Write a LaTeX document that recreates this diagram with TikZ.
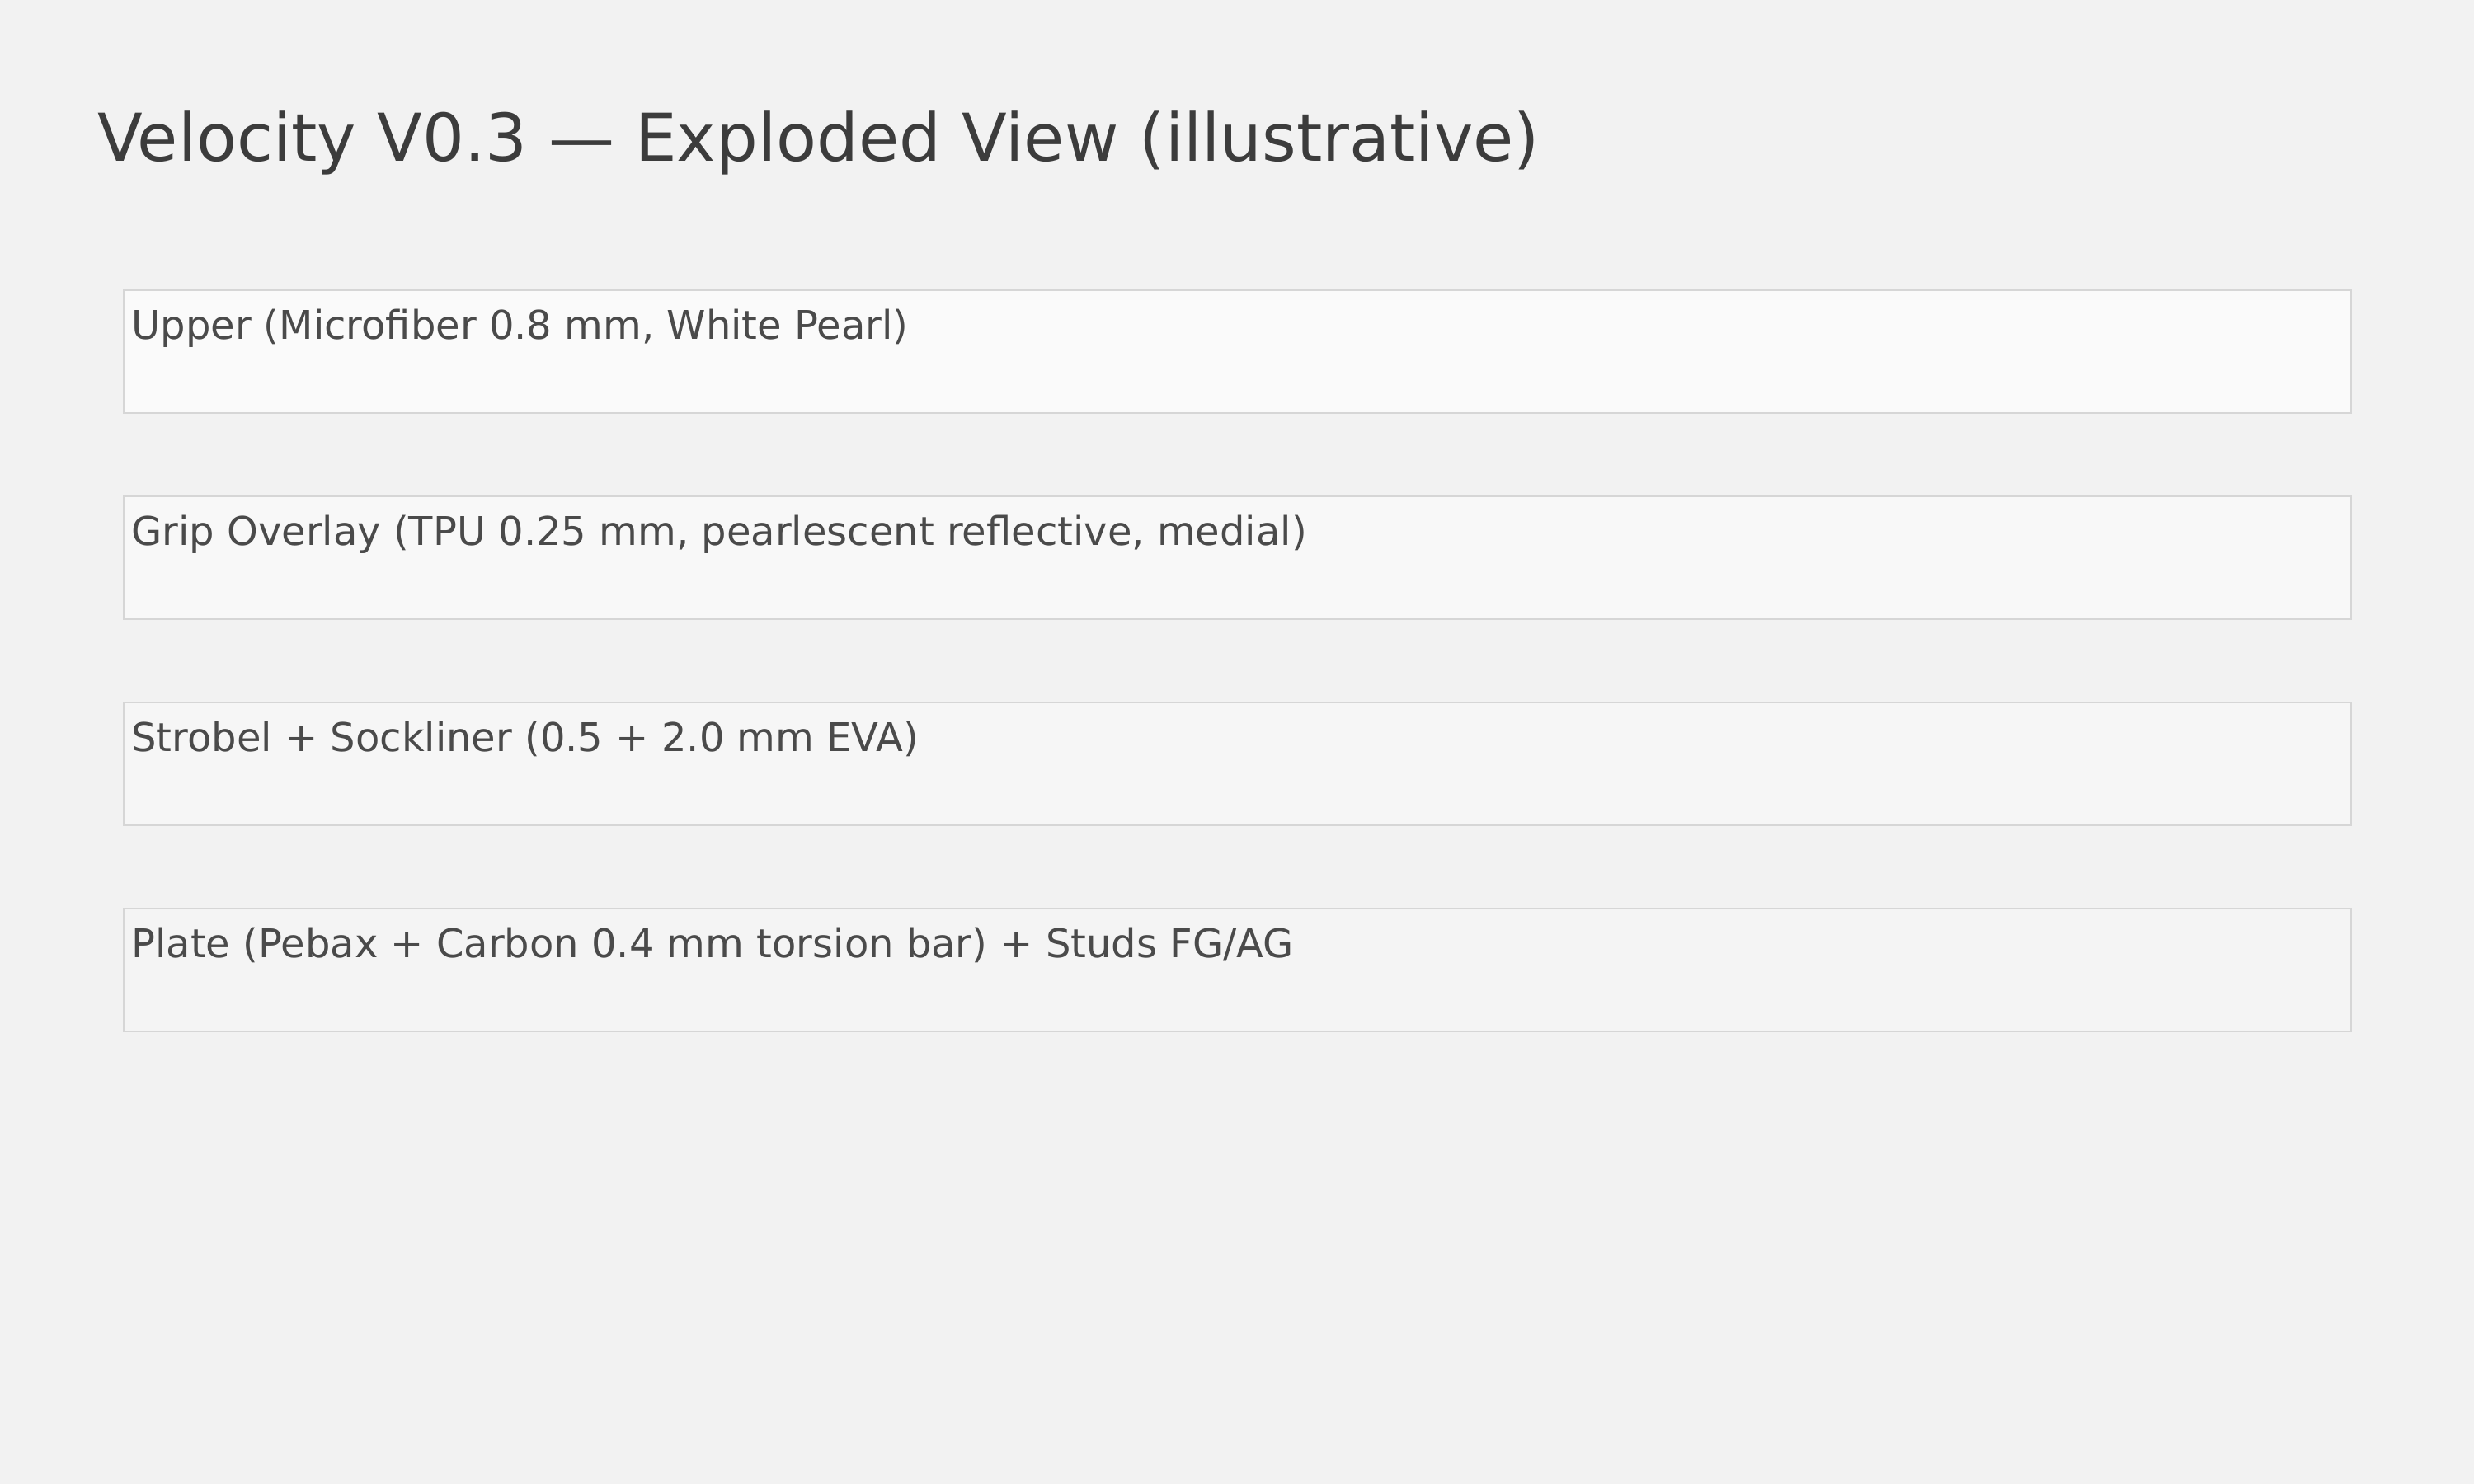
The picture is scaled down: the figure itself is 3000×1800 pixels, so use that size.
\documentclass[tikz,border=0pt]{standalone}
\usepackage{fontspec}
\setmainfont{DejaVu Sans}
\definecolor{bg}{HTML}{F2F2F2}
\definecolor{titlec}{HTML}{3C3C3C}
\definecolor{textc}{HTML}{4A4A4A}
\definecolor{edge}{HTML}{D6D6D6}
\definecolor{f1}{HTML}{FAFAFA}
\definecolor{f2}{HTML}{F8F8F8}
\definecolor{f3}{HTML}{F6F6F6}
\definecolor{f4}{HTML}{F4F4F4}
\begin{document}
\begin{tikzpicture}[x=0.5pt,y=-0.5pt,
  layer/.style={draw=edge, line width=1pt, anchor=north west, inner sep=0pt,
    minimum width=1350.5pt, minimum height=74.5pt},
  lbl/.style={anchor=base west, inner sep=0pt, text=textc, font=\fontsize{24pt}{29pt}\selectfont}]
\fill[bg] (0,0) rectangle (3000,1800);
\useasboundingbox (0,0) rectangle (3000,1800);
\node[anchor=base west, inner sep=0pt, text=titlec, font=\fontsize{40pt}{48pt}\selectfont] (title) at (118,195) {Velocity V0.3 — Exploded View (illustrative)};
\node[layer, fill=f1] (b1) at (149,350.5) {};
\node[layer, fill=f2] (b2) at (149,600.5) {};
\node[layer, fill=f3] (b3) at (149,850.5) {};
\node[layer, fill=f4] (b4) at (149,1100.5) {};
\node[lbl] (t1) at (159,411) {Upper (Microfiber 0.8 mm, White Pearl)};
\node[lbl] (t2) at (159,661) {Grip Overlay (TPU 0.25 mm, pearlescent reflective, medial)};
\node[lbl] (t3) at (159,911) {Strobel + Sockliner (0.5 + 2.0 mm EVA)};
\node[lbl] (t4) at (159,1161) {Plate (Pebax + Carbon 0.4 mm torsion bar) + Studs FG/AG};
\end{tikzpicture}
\end{document}
